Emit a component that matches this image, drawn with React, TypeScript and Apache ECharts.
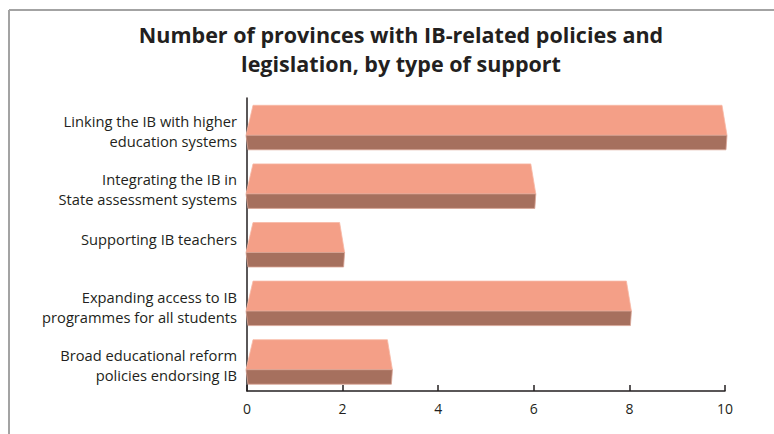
import React, { useEffect, useRef } from "react";
import * as echarts from "echarts";

const categories = [
  "Linking the IB with higher\neducation systems",
  "Integrating the IB in\nState assessment systems",
  "Supporting IB teachers",
  "Expanding access to IB\nprogrammes for all students",
  "Broad educational reform\npolicies endorsing IB",
];
const values = [10, 6, 2, 8, 3];
const raisedLabel = "Supporting IB teachers";
const xTicks = { min: 0, max: 10, interval: 2 };
const titleText = "Number of provinces with IB-related policies and\nlegislation, by type of support";

const FONT = "'Open Sans', 'Noto Sans', sans-serif";
const INK = "#231f20";
const LIGHT = "#f49f87";
const DARK = "#a6705e";

export default function App() {
  const ref = useRef<HTMLDivElement>(null);
  useEffect(() => {
    if (!ref.current) return;
    const chart = echarts.init(ref.current, null, { renderer: "svg" });
    chart.setOption({
      animation: false,
      title: {
        text: titleText,
        left: 396,
        top: 15,
        textAlign: "center",
        textStyle: { fontFamily: FONT, fontSize: 21.5, fontWeight: "bold", color: INK, lineHeight: 29 },
      },
      graphic: [
        { type: "line", shape: { x1: 9, y1: 10, x2: 780, y2: 10 }, style: { stroke: "#a3a3a3", lineWidth: 2 } },
        { type: "line", shape: { x1: 9, y1: 10, x2: 9, y2: 440 }, style: { stroke: "#a3a3a3", lineWidth: 2 } },
      ],
      grid: { left: 247, right: 49, top: 98, bottom: 43, containLabel: false },
      xAxis: {
        type: "value",
        min: xTicks.min,
        max: xTicks.max,
        interval: xTicks.interval,
        splitLine: { show: false },
        axisLine: { show: true, lineStyle: { color: INK, width: 1.5 } },
        axisTick: { show: true, inside: true, length: 6, lineStyle: { color: INK, width: 1.5 } },
        axisLabel: { color: INK, fontFamily: FONT, fontSize: 14, margin: 10 },
      },
      yAxis: {
        type: "category",
        inverse: true,
        data: categories,
        axisLine: { show: true, lineStyle: { color: INK, width: 1.5 } },
        axisTick: { show: false },
        axisLabel: {
          color: INK,
          fontFamily: FONT,
          fontSize: 14.7,
          lineHeight: 20,
          margin: 10,
          align: "right",
          padding: [7, 0, 0, 0],
          formatter: (val: string) => (val === raisedLabel ? `{up|${val}}` : val),
          rich: {
            up: { color: INK, fontFamily: FONT, fontSize: 14.7, lineHeight: 20, padding: [0, 0, 19, 0] },
          },
        },
      },
      series: [
        {
          type: "custom",
          data: values.map((v, i) => [v, i]),
          encode: { x: 0, y: 1 },
          renderItem: (params: any, api: any) => {
            const idx = api.value(1);
            const v = api.value(0);
            const p0 = api.coord([0, idx]);
            const p1 = api.coord([v, idx]);
            const x0 = p0[0];
            const x1 = p1[0];
            const c = p0[1];
            const top = c - 22;
            const mid = c + 8;
            const bot = c + 22.5;
            return {
              type: "group",
              children: [
                {
                  type: "polygon",
                  shape: { points: [[x0 + 6, top], [x1 - 3, top], [x1 + 2, mid], [x0 - 1, mid]] },
                  style: { fill: LIGHT, stroke: "#f7b9a6", lineWidth: 0.8 },
                },
                {
                  type: "polygon",
                  shape: { points: [[x0 - 1, mid], [x1 + 2, mid], [x1 + 1, bot], [x0 + 1, bot]] },
                  style: { fill: DARK, stroke: "#d9a595", lineWidth: 0.8 },
                },
              ],
            };
          },
        },
      ],
    });
    return () => chart.dispose();
  }, []);
  return <div ref={ref} style={{ position: "fixed", left: 0, top: 0, width: 774, height: 434, background: "#fff" }} />;
}
